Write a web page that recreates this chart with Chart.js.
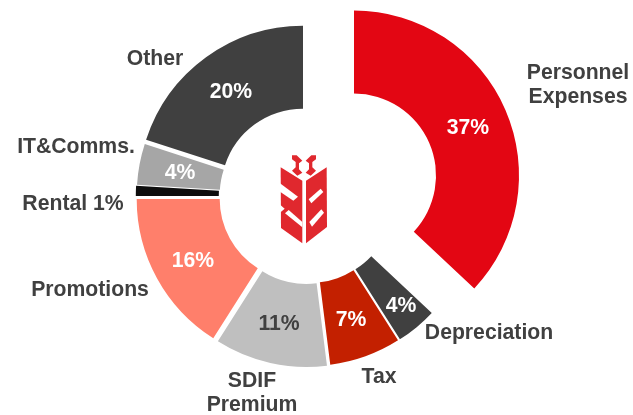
<!DOCTYPE html>
<html><head><meta charset="utf-8">
<style>html,body{margin:0;padding:0;background:#fff}#w{width:633px;height:415px;position:relative}</style>
<script src="https://cdn.jsdelivr.net/npm/chart.js@4"></script>
</head><body><div id="w"><canvas id="c"></canvas></div>
<script>
const categories = ["Personnel Expenses","Depreciation","Tax","SDIF Premium","Promotions","Rental","IT&Comms.","Other"];
const values = [37,4,7,11,16,1,4,20];
const colors = ["#e30613","#404040","#c32000","#bfbfbf","#ff7f6b","#0d0d0d","#a6a6a6","#404040"];
const pctColors = ["#fff","#fff","#fff","#404040","#fff","#fff","#fff","#fff"];
const sliceShiftX = [51,8.5,6.6,3.3,-1.3,-2.2,-1.3,0];
const sliceShiftY = [-21.5,3,4,5,2,-1,-2,-6.3];
const nameLines = [["Personnel","Expenses"],["Depreciation"],["Tax"],["SDIF","Premium"],["Promotions"],["Rental 1%"],["IT&Comms."],["Other"]];
const nameAnchors = [[578,73],[489,333],[379,377],[252,381],[90,290],[73,204],[76,147],[155,59]];
const pctAnchors = [[468,128],[401,306],[351,320],[279,324],[193,261],null,[180,173],[231,92]];
const FONT = "bold 21.2px 'Liberation Sans', Arial, sans-serif";

// every slice is pulled out of the ring by its own small amount
const explode = {id:'explode',afterDatasetsUpdate(ch){
  ch.getDatasetMeta(0).data.forEach((a,i)=>{a.x+=sliceShiftX[i]; a.y+=sliceShiftY[i];});
}};
const labels = {id:'labels',afterDatasetsDraw(ch){
  const x=ch.ctx; x.save(); x.font=FONT; x.textAlign='center'; x.textBaseline='middle';
  x.fillStyle='#404040';
  nameLines.forEach((ls,i)=>ls.forEach((t,j)=>x.fillText(t,nameAnchors[i][0],nameAnchors[i][1]+j*24)));
  values.forEach((v,i)=>{if(pctAnchors[i]){x.fillStyle=pctColors[i];x.fillText(v+'%',pctAnchors[i][0],pctAnchors[i][1]);}});
  x.restore();
}};
// bank logo emblem, drawn in 3x crop coordinates
const logo = {id:'logo',afterDatasetsDraw(ch){
  const x=ch.ctx; x.save(); x.translate(250,130); x.scale(1/3,1/3);
  const poly=p=>{x.beginPath();p.forEach((q,i)=>i?x.lineTo(q[0],q[1]):x.moveTo(q[0],q[1]));x.closePath();x.fill();};
  x.fillStyle='#e0282e';
  [[[92,112],[157,152],[157,340],[93,294]],
   [[168,152],[230,112],[231,291],[168,340]],
   [[126,76],[140,76],[157,92],[147,100],[147,118],[157,128],[142,137],[126,122],[137,112],[137,96],[126,88]],
   [[198,76],[184,76],[167,92],[177,100],[177,118],[167,128],[182,137],[198,122],[187,112],[187,96],[198,88]]
  ].forEach(poly);
  x.fillStyle='#fff';
  [[[88,158],[144,200],[130,212],[88,184]],
   [[88,222],[104,236],[88,250]],
   [[105,250],[116,240],[157,276],[157,292]],
   [[176,208],[212,176],[220,186],[184,220]],
   [[178,276],[214,238],[222,248],[186,290]]
  ].forEach(poly);
  x.restore();
}};
new Chart(document.getElementById('c'),{
  type:'doughnut',
  data:{labels:categories,datasets:[{data:values,backgroundColor:colors,borderWidth:0}]},
  options:{responsive:true,maintainAspectRatio:false,animation:false,events:[],rotation:0,cutout:'49.7%',radius:165,
    layout:{padding:{left:0,top:0,right:27,bottom:21}},
    plugins:{legend:{display:false},tooltip:{enabled:false}}},
  plugins:[explode,labels,logo]
});
</script></body></html>
